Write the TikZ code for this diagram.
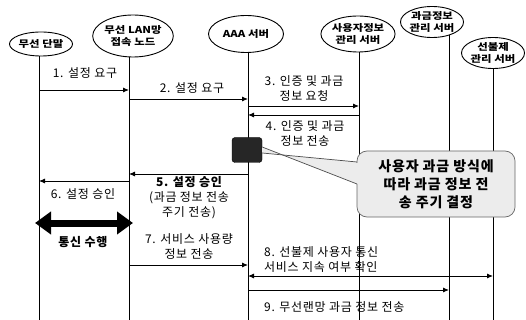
\documentclass[tikz,border=0pt]{standalone}
\usepackage{fontspec}
\setmainfont{Noto Sans CJK KR}
\newfontfamily\ellf[FakeStretch=1.2]{Noto Sans CJK KR}
\newfontfamily\lblf[LetterSpace=6]{Noto Sans CJK KR}
\usetikzlibrary{arrows.meta,shapes.geometric}
\begin{document}
\begin{tikzpicture}[x=1pt,y=-1pt,
  actor/.style={ellipse, draw=black, line width=0.9pt, fill=white, inner sep=0pt, align=center,
    font=\ellf\bfseries\fontsize{9.5}{11.5}\selectfont},
  life/.style={line width=0.8pt},
  msg/.style={line width=0.9pt, -{Latex[length=6pt,width=5pt]}},
  msgb/.style={line width=0.9pt, {Latex[length=6pt,width=5pt]}-{Latex[length=6pt,width=5pt]}},
  lbl/.style={font=\lblf\fontsize{12}{15}\selectfont, inner sep=0pt, align=center},
  lbll/.style={lbl, anchor=west, align=left},
  blackbox/.style={fill=black!85, draw=black, rounded corners=3pt, minimum width=30pt, minimum height=25pt, inner sep=0pt},
  cbox/.style={fill=gray!15, draw=black!60, line width=0.7pt, rounded corners=10pt, minimum width=158pt, minimum height=66pt, inner sep=0pt, align=center,
    font=\lblf\bfseries\fontsize{14}{18}\selectfont},
]
\useasboundingbox (0,0) rectangle (526,320);
% lifelines
\coordinate (L1) at (39,44);  \coordinate (B1) at (39,320);
\coordinate (L2) at (129,36); \coordinate (B2) at (129,320);
\coordinate (L3) at (248,34); \coordinate (B3) at (248,320);
\coordinate (L4) at (359,34); \coordinate (B4) at (359,320);
\coordinate (L5) at (449,22); \coordinate (B5) at (449,320);
\coordinate (L6) at (493,53); \coordinate (B6) at (493,320);
\foreach \i in {1,...,6} {\draw[life] (L\i) -- (B\i);}
% actors
\node[actor, minimum width=62pt, minimum height=24pt] (a1) at (41,44) {무선 단말};
\node[actor, minimum width=80pt, minimum height=42pt] (a2) at (133,36) {무선 LAN망\\접속 노드};
\node[actor, minimum width=75pt, minimum height=37pt] (a3) at (246,34) {AAA 서버};
\node[actor, minimum width=72pt, minimum height=36pt] (a4) at (358,34) {사용자정보\\관리 서버};
\node[actor, minimum width=60pt, minimum height=31pt] (a5) at (432,22) {과금정보\\관리 서버};
\node[actor, minimum width=63pt, minimum height=31pt] (a6) at (493,53) {선불제\\관리 서버};
% messages
\draw[msg] (L1 |- 0,90) -- (L2 |- 0,90);
\node[lbl] (t1) at (85,73) {1. 설정 요구};
\draw[msg] (L2 |- 0,99) -- (L3 |- 0,99);
\node[lbl] (t2) at (192,88) {2. 설정 요구};
\draw[msg] (L3 |- 0,106) -- (L4 |- 0,106);
\node[lbl] (t3) at (304,89) {3. 인증 및 과금\\정보 요청};
\draw[msg] (L4 |- 0,115) -- (L3 |- 0,115);
\node[lbl] (t4) at (305,134) {4. 인증 및 과금\\정보 전송};
\draw[msg] (L3 |- 0,174) -- (L2 |- 0,174);
\node[lbl] (t5) at (189,198) {\bfseries 5. 설정 승인\\(과금 정보 전송\\주기 전송)};
\draw[msg] (L2 |- 0,181) -- (L1 |- 0,181);
\node[lbl] (t6) at (83,194) {6. 설정 승인};
\draw[line width=7pt, {Triangle[length=16pt,width=22pt]}-{Triangle[length=16pt,width=22pt]}] (35,223) -- (133,223);
\node[lbl, font=\lblf\bfseries\fontsize{12}{15}\selectfont] (tc) at (83,242) {통신 수행};
\draw[msg] (L2 |- 0,265) -- (L3 |- 0,265);
\node[lbl] (t7) at (189,246) {7. 서비스 사용량\\정보 전송};
\draw[msgb] (L3 |- 0,276) -- (L6 |- 0,276);
\node[lbll] (t8) at (264,260) {8. 선불제 사용자 통신\\서비스 지속 여부 확인};
\draw[msg] (L3 |- 0,290) -- (L5 |- 0,290);
\node[lbll] (t9) at (264,307) {9. 무선랜망 과금 정보 전송};
% callout
\node[blackbox] (bb) at (247,150) {};
\fill[gray!15] ([yshift=-3pt]bb.east) -- (360,162) -- (360,185) -- ([yshift=3pt]bb.east) -- cycle;
\node[cbox] (cb) at (436,184) {사용자 과금 방식에\\따라 과금 정보 전\\송 주기 결정};
\fill[gray!15] (356,163.5) rectangle (359,183.5);
\draw[black!70, line width=0.7pt] ([yshift=-3pt]bb.east) -- (357,162);
\draw[black!70, line width=0.7pt] ([yshift=3pt]bb.east) -- (357,184);
\end{tikzpicture}
\end{document}
